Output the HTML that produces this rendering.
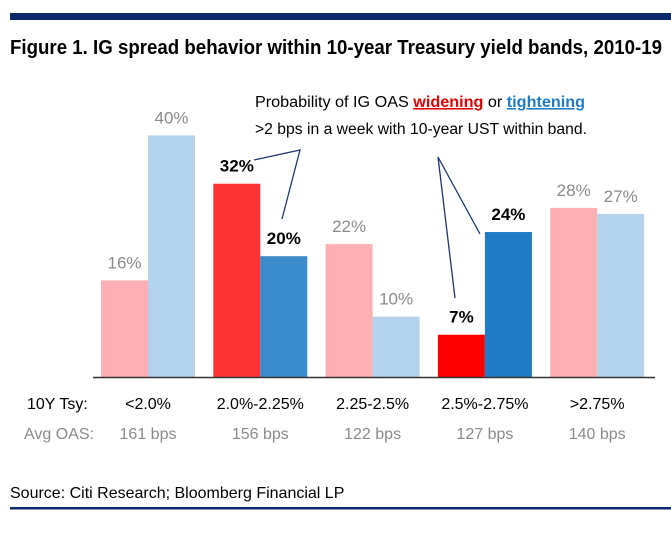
<!DOCTYPE html>
<html><head><meta charset="utf-8"><style>
body{margin:0;background:#fff;}
svg{display:block;font-family:"Liberation Sans",Arial,sans-serif;}
</style></head><body>
<svg width="671" height="538" viewBox="0 0 671 538">
<rect x="10" y="13" width="661" height="7" fill="#0b2a6b"/>
<text x="10" y="54" font-size="20" font-weight="bold" textLength="652" lengthAdjust="spacingAndGlyphs">Figure 1. IG spread behavior within 10-year Treasury yield bands, 2010-19</text>
<g>
<text x="255" y="107" font-size="15.5" textLength="330" lengthAdjust="spacingAndGlyphs">Probability of IG OAS <tspan fill="#e00000" font-weight="bold" text-decoration="underline">widening</tspan>  or  <tspan fill="#1f7bc3" font-weight="bold" text-decoration="underline">tightening</tspan></text>
<text x="255" y="134" font-size="15.5" textLength="332" lengthAdjust="spacingAndGlyphs">&gt;2 bps in a week with 10-year UST within band.</text>
<polyline points="254,160 300,150 282,219" fill="none" stroke="#1b3570" stroke-width="1.3"/>
<polyline points="455,298 438,157 480,234" fill="none" stroke="#1b3570" stroke-width="1.3"/>
</g>
<g id="bars"></g>
<line x1="93" y1="377.5" x2="655" y2="377.5" stroke="#333" stroke-width="1.5"/>
<text x="27" y="409" font-size="16">10Y Tsy:</text>
<text x="24" y="439" font-size="16" fill="#8a8a8a">Avg OAS:</text>
<g id="cats"></g>
<text x="10" y="498" font-size="16">Source: Citi Research; Bloomberg Financial LP</text>
<rect x="10" y="507" width="661" height="2.5" fill="#0b2a6b"/>
</svg>
<script>
const categories=["<2.0%","2.0%-2.25%","2.25-2.5%","2.5%-2.75%",">2.75%"];
const avgOas=["161 bps","156 bps","122 bps","127 bps","140 bps"];
const widening=[16,32,22,7,28];
const tightening=[40,20,10,24,27];
const highlight=[false,true,false,true,false];
const NS="http://www.w3.org/2000/svg";
const base=377, scale=6.04, x0=148, step=112.3, bw=47;
const y=v=>base-v*scale;
const xc=i=>x0+i*step;
const bars=document.getElementById('bars'), cats=document.getElementById('cats');
function mk(tag,attrs,parent){const e=document.createElementNS(NS,tag);for(const k in attrs)e.setAttribute(k,attrs[k]);parent.appendChild(e);return e;}
categories.forEach((c,i)=>{
  const hl=highlight[i];
  const wCol=hl?(i===1?"#ff3333":"#ff0000"):"#ffb0b4";
  const tCol=hl?(i===1?"#3a8ccc":"#1f7bc3"):"#b4d2ea";
  const r1=mk('rect',{x:xc(i)-bw,y:y(widening[i]),width:bw,height:widening[i]*scale,fill:wCol},bars);
  
  
  const r2=mk('rect',{x:xc(i),y:y(tightening[i]),width:bw,height:tightening[i]*scale,fill:tCol},bars);
  
  
  const lc=hl?"#000":"#8a8a8a", fw=hl?"bold":"normal";
  const t1=mk('text',{x:xc(i)-bw/2,y:y(widening[i])-12,'font-size':17,'text-anchor':'middle',fill:lc,'font-weight':fw},bars);
  t1.textContent=widening[i]+"%";
  
  
  const t2=mk('text',{x:xc(i)+bw/2,y:y(tightening[i])-12,'font-size':17,'text-anchor':'middle',fill:lc,'font-weight':fw},bars);
  t2.textContent=tightening[i]+"%";
  
  
  const c1=mk('text',{x:xc(i),y:409,'font-size':16,'text-anchor':'middle'},cats);
  c1.textContent=c;
  
  
  const c2=mk('text',{x:xc(i),y:439,'font-size':16,'text-anchor':'middle',fill:'#8a8a8a'},cats);
  c2.textContent=avgOas[i];
  
  
});
</script>
</body></html>
